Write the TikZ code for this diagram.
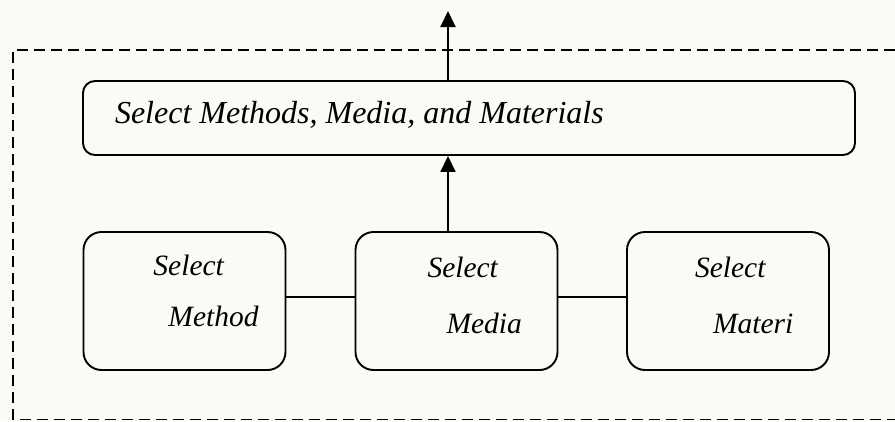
\documentclass[tikz,border=0pt]{standalone}
\usepackage{fontspec}
\setmainfont{Liberation Serif}
\usetikzlibrary{arrows.meta}
\definecolor{bgcol}{RGB}{250,251,245}
\newcommand{\boxtext}[6]{%
  \parbox[c][138pt][t]{202pt}{\fontsize{29.5}{#5}\selectfont\itshape
    \hspace*{#1}\rule{0pt}{#2}#3\\
    \hspace*{#4}#6}}
\tikzset{
  bigbox/.style={draw, line width=1.9pt, rounded corners=12pt, inner sep=0pt},
  smallbox/.style={draw, line width=1.9pt, rounded corners=18pt, inner sep=0pt},
  arr/.style={line width=1.9pt, -{Triangle[length=16pt,width=15pt]}},
  link/.style={line width=1.9pt},
  frameline/.style={line width=1.9pt, dash pattern=on 11pt off 6pt}
}
\begin{document}
\begin{tikzpicture}[x=1pt,y=-1pt]
  \fill[bgcol] (0,0) rectangle (895,421);
  \useasboundingbox (0,0) rectangle (895,421);
  % dashed frame
  \coordinate (f1) at (895,50);
  \coordinate (f2) at (13,50);
  \coordinate (f3) at (13,419.5);
  \coordinate (f4) at (895,419.5);
  \draw[frameline] (f1) -- (f2) -- (f3) -- (f4);
  % big box
  \node[bigbox] (big) at (469,118) {\parbox[c][74pt][t]{772pt}{\fontsize{32}{36}\selectfont\itshape\hspace*{32pt}\rule{0pt}{42pt}Select Methods, Media, and Materials}};
  % small boxes
  \node[smallbox] (method) at (184.5,301) {\boxtext{70pt}{43pt}{Select}{85pt}{51pt}{Method}};
  \node[smallbox] (media) at (456.5,301) {\boxtext{72pt}{45pt}{Select}{91pt}{56pt}{Media}};
  \node[smallbox] (materi) at (728,301) {\boxtext{68pt}{45pt}{Select}{86pt}{56pt}{Materi}};
  % connectors
  \draw[link] ([yshift=4pt]method.east) -- ([yshift=4pt]media.west);
  \draw[link] ([yshift=4pt]media.east) -- ([yshift=4pt]materi.west);
  \coordinate (tip) at (448,11);
  \draw[arr] (media.north -| tip) -- (big.south -| tip);
  \draw[arr] (big.north -| tip) -- (tip);
\end{tikzpicture}
\end{document}
